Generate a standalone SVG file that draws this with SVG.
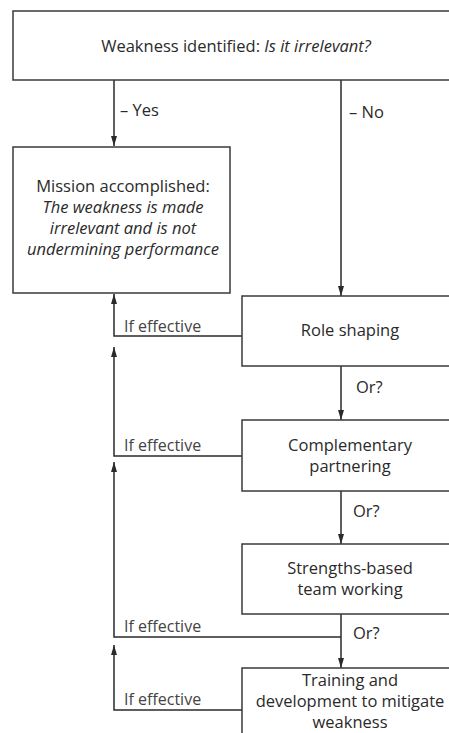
<svg xmlns="http://www.w3.org/2000/svg" width="449" height="733" viewBox="0 0 449 733">
<style>
.box{fill:#fff;stroke:#3a3a3a;stroke-width:1.5}
.ln{fill:none;stroke:#2a2a2a;stroke-width:1.5}
text{font-family:"Open Sans",Lato,sans-serif;font-size:16.5px;fill:#2a2a2a}
.c{text-anchor:middle}
.i{font-style:italic}
.lb{fill:#444;font-size:16px}
</style>
<defs>
<marker id="ah" viewBox="0 0 10 10" refX="10" refY="5" markerWidth="10" markerHeight="10" markerUnits="userSpaceOnUse" orient="auto">
<path d="M0,2 L10,5 L0,8 Z" fill="#2a2a2a"/>
</marker>
</defs>
<rect width="449" height="733" fill="#fff"/>
<g id="connectors">
<line class="ln" x1="114" y1="80" x2="114" y2="146" marker-end="url(#ah)"/>
<line class="ln" x1="341" y1="80" x2="341" y2="296" marker-end="url(#ah)"/>
<polyline class="ln" points="242,336 114,336 114,294" marker-end="url(#ah)"/>
<line class="ln" x1="341" y1="366" x2="341" y2="420" marker-end="url(#ah)"/>
<polyline class="ln" points="242,456 114,456 114,347" marker-end="url(#ah)"/>
<line class="ln" x1="341" y1="491" x2="341" y2="544" marker-end="url(#ah)"/>
<line class="ln" x1="341" y1="614" x2="341" y2="668" marker-end="url(#ah)"/>
<polyline class="ln" points="341,637 114,637 114,462" marker-end="url(#ah)"/>
<polyline class="ln" points="242,710 114,710 114,645" marker-end="url(#ah)"/>
<text x="120" y="116">– Yes</text>
<text x="349" y="118">– No</text>
<text class="lb" x="124" y="332">If effective</text>
<text x="356" y="393">Or?</text>
<text class="lb" x="124" y="451">If effective</text>
<text x="353" y="517">Or?</text>
<text class="lb" x="124" y="632">If effective</text>
<text x="353" y="639">Or?</text>
<text class="lb" x="124" y="705">If effective</text>
</g>
<g id="weakness">
<rect class="box" x="13" y="11" width="450" height="69"/>
<text class="c" x="236" y="52">Weakness identified: <tspan class="i">Is it irrelevant?</tspan></text>
</g>
<g id="mission">
<rect class="box" x="13" y="147" width="217" height="146"/>
<text class="c" x="123" y="192">Mission accomplished:</text>
<text class="c i" x="123" y="213">The weakness is made</text>
<text class="c i" x="123" y="234">irrelevant and is not</text>
<text class="c i" x="123" y="255">undermining performance</text>
</g>
<g id="role">
<rect class="box" x="242" y="296" width="220" height="70"/>
<text class="c" x="350" y="336">Role shaping</text>
</g>
<g id="complementary">
<rect class="box" x="242" y="420" width="220" height="71"/>
<text class="c" x="350" y="451">Complementary</text>
<text class="c" x="350" y="472">partnering</text>
</g>
<g id="strengths">
<rect class="box" x="242" y="544" width="220" height="70"/>
<text class="c" x="350" y="574">Strengths-based</text>
<text class="c" x="350" y="595">team working</text>
</g>
<g id="training">
<rect class="box" x="242" y="668" width="220" height="80"/>
<text class="c" x="350" y="686">Training and</text>
<text class="c" x="350" y="707">development to mitigate</text>
<text class="c" x="350" y="728">weakness</text>
</g>
</svg>
